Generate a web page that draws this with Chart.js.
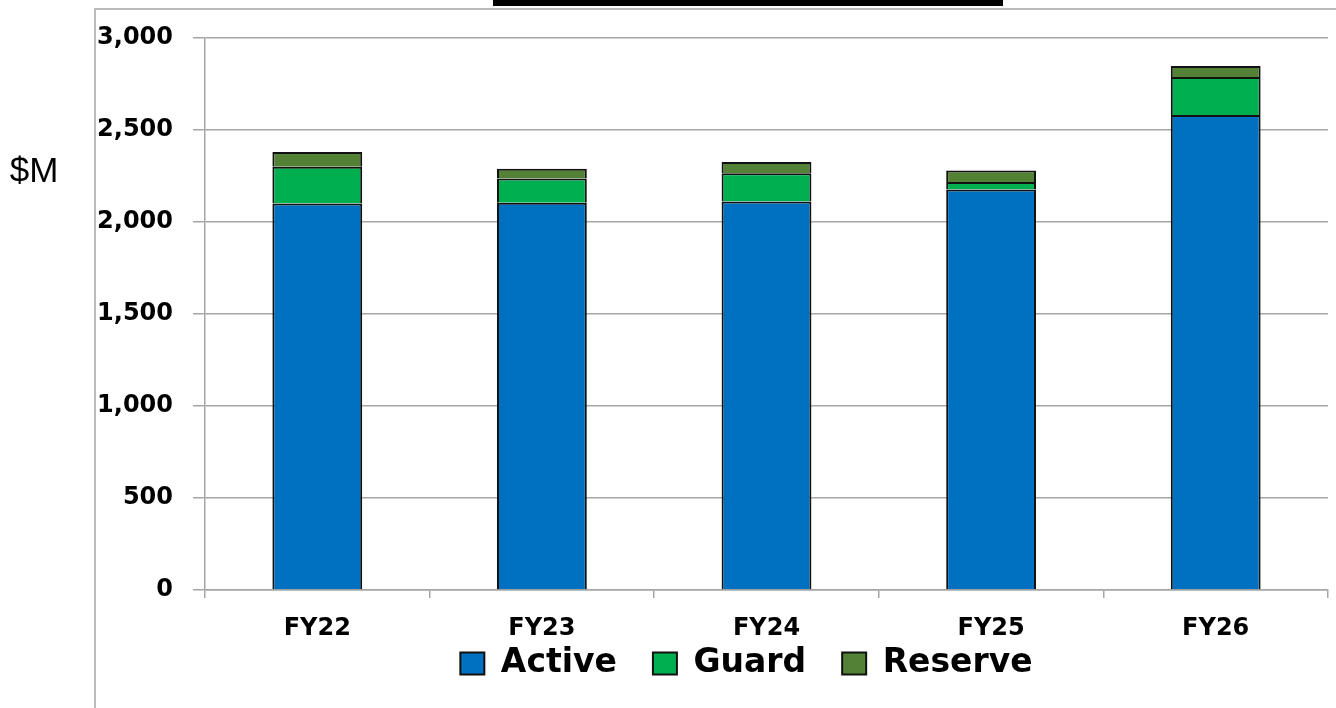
<!DOCTYPE html>
<html>
<head>
<meta charset="utf-8">
<script src="https://cdn.jsdelivr.net/npm/chart.js@4/dist/chart.umd.min.js"></script>
<style>
  html, body { margin: 0; padding: 0; background: #fff; }
  #wrap { width: 1336px; height: 708px; }
</style>
</head>
<body>
<div id="wrap"><canvas id="budgetChart"></canvas></div>
<script>
const years = ['FY22', 'FY23', 'FY24', 'FY25', 'FY26'];
const active = [2100, 2105, 2112, 2177, 2582];
const guard = [200, 131, 153, 41, 206];
const reserve = [80, 54, 61, 62, 60];
const yTicks = [0, 500, 1000, 1500, 2000, 2500, 3000];

const gridGray = '#a6a6a6';
const boldFont = '"DejaVu Sans", Verdana, sans-serif';

// frame lines, the black bar at the top and the "$M" label
const decor = {
    id: 'decor',
    afterLayout(chart) {
        // legend sits a little left of the plot centre and tucked up under the labels
        const lg = chart.legend;
        lg.left -= 20;
        lg.right -= 20;
        lg.top -= 29;
        lg.bottom -= 29;
    },
    beforeDraw(chart) {
        const c = chart.ctx;
        c.save();
        c.strokeStyle = gridGray;
        c.lineWidth = 1.5;
        c.beginPath();
        c.moveTo(95, 708);
        c.lineTo(95, 9);
        c.lineTo(1336, 9);
        c.stroke();
        c.fillStyle = '#000';
        c.fillRect(493, 0, 510, 6);
        c.font = '35px "Liberation Sans", Arial, sans-serif';
        c.textAlign = 'center';
        c.textBaseline = 'middle';
        c.fillText('$M', 34, 172);
        c.restore();
    }
};

const ctx = document.getElementById('budgetChart').getContext('2d');

new Chart(ctx, {
    type: 'bar',
    data: {
        labels: years,
        datasets: [
            { label: 'Active', data: active, backgroundColor: '#0070C0' },
            { label: 'Guard', data: guard, backgroundColor: '#00B050' },
            { label: 'Reserve', data: reserve, backgroundColor: '#538135' }
        ].map(d => Object.assign(d, {
            borderColor: '#111',
            borderWidth: 2,
            barPercentage: 0.4,
            categoryPercentage: 1
        }))
    },
    options: {
        responsive: true,
        maintainAspectRatio: false,
        animation: false,
        locale: 'en-US',
        layout: { padding: { left: 0, right: 8, top: 38, bottom: 0 } },
        plugins: {
            title: { display: false },
            tooltip: { enabled: false },
            legend: {
                position: 'bottom',
                fullSize: false,
                maxHeight: 68,
                labels: {
                    color: '#000',
                    font: { family: boldFont, size: 33, weight: 'bold' },
                    boxWidth: 24,
                    boxHeight: 22,
                    padding: 36
                }
            }
        },
        scales: {
            x: {
                stacked: true,
                afterFit(scale) { scale.height = 50; },
                grid: {
                    offset: true,
                    drawOnChartArea: false,
                    drawTicks: true,
                    tickLength: 8,
                    color: gridGray,
                    lineWidth: 1.5
                },
                border: { color: gridGray, width: 1.5 },
                ticks: {
                    color: '#000',
                    padding: 16,
                    font: { family: boldFont, size: 24, weight: 'bold' }
                }
            },
            y: {
                stacked: true,
                min: 0,
                max: 3000,
                afterFit(scale) { scale.width = 205; },
                afterBuildTicks(scale) { scale.ticks = yTicks.map(v => ({ value: v })); },
                grid: {
                    color: gridGray,
                    lineWidth: 1.5,
                    tickLength: 12
                },
                border: { color: gridGray, width: 1.5 },
                ticks: {
                    color: '#000',
                    padding: 20,
                    font: { family: boldFont, size: 24, weight: 'bold' }
                }
            }
        }
    },
    plugins: [decor]
});
</script>
</body>
</html>
